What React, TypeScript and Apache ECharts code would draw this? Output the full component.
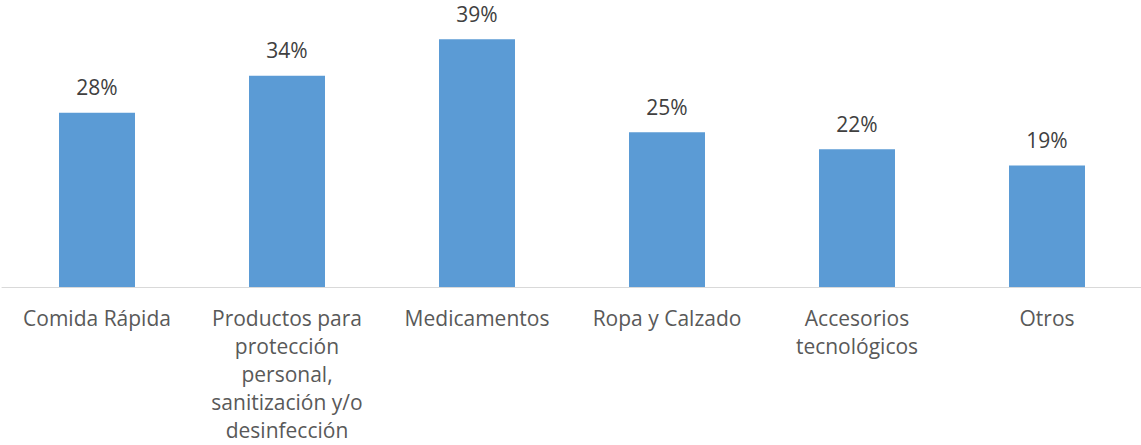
import React, { useEffect, useRef } from "react";
import * as echarts from "echarts";

const categories = [
  "Comida Rápida",
  "Productos para\nprotección\npersonal,\nsanitización y/o\ndesinfección",
  "Medicamentos",
  "Ropa y Calzado",
  "Accesorios\ntecnológicos",
  "Otros",
];

const values = [27.7, 33.6, 39.4, 24.6, 21.9, 19.3];

const FONT = "'Open Sans', sans-serif";

export default function App() {
  const ref = useRef<HTMLDivElement>(null);

  useEffect(() => {
    if (!ref.current) return;
    const chart = echarts.init(ref.current, undefined, { renderer: "svg" });
    chart.setOption({
      animation: false,
      backgroundColor: "#ffffff",
      grid: {
        left: 2,
        top: 4,
        width: 1140,
        height: 283,
        containLabel: false,
        outerBoundsMode: "none",
      },
      xAxis: {
        type: "category",
        data: categories,
        axisTick: { show: false },
        axisLine: { show: true, lineStyle: { color: "#d9d9d9", width: 1 } },
        axisLabel: {
          interval: 0,
          fontFamily: FONT,
          fontSize: 21,
          lineHeight: 28,
          margin: 17,
          color: "#595959",
        },
      },
      yAxis: {
        type: "value",
        min: 0,
        max: 45,
        show: false,
        splitLine: { show: false },
      },
      series: [
        {
          type: "bar",
          data: values,
          barWidth: 76,
          itemStyle: { color: "#5b9bd5" },
          label: {
            show: true,
            position: "top",
            distance: 15,
            fontFamily: FONT,
            fontSize: 21,
            color: "#404040",
            formatter: (p: any) => Math.round(p.value) + "%",
          },
        },
      ],
    });
    return () => chart.dispose();
  }, []);

  return (
    <div
      ref={ref}
      style={{ position: "absolute", left: 0, top: 0, width: 1141, height: 445 }}
    />
  );
}
